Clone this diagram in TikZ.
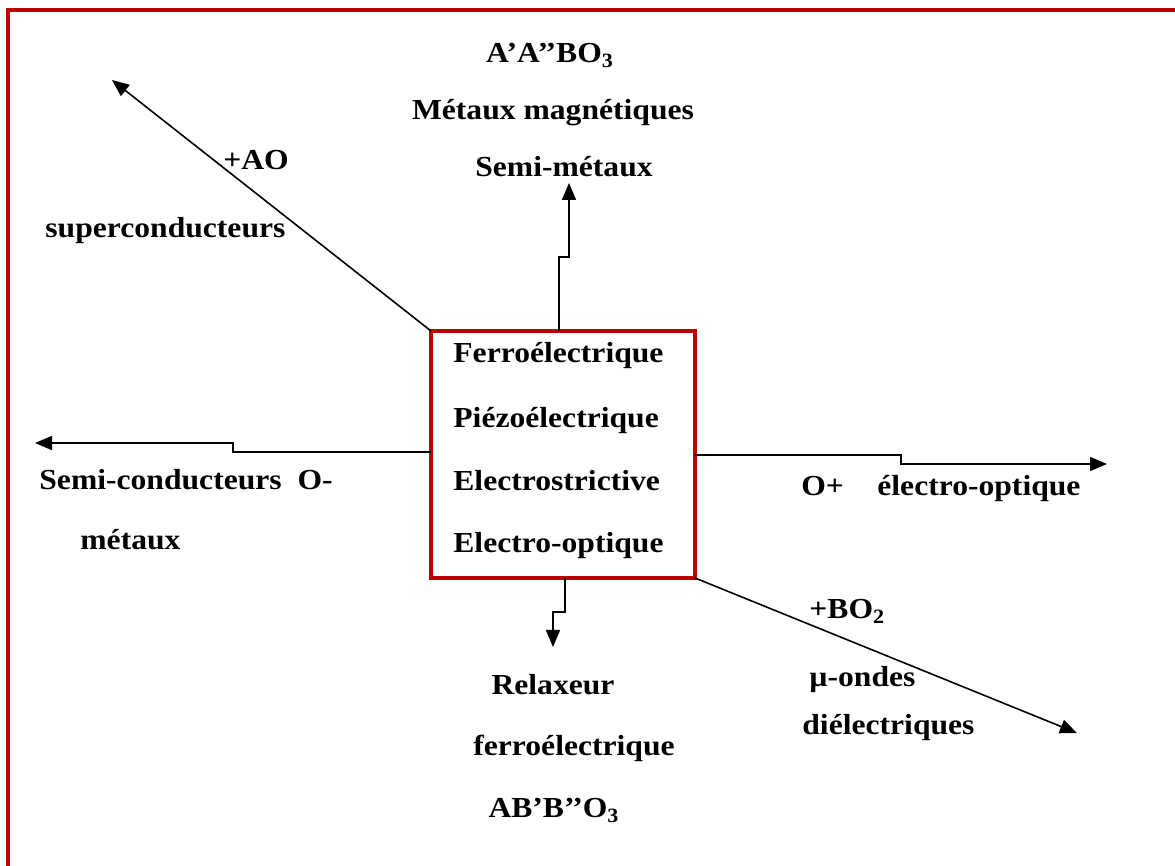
\documentclass[tikz,border=0pt]{standalone}
\usepackage{fontspec}
\setmainfont{Liberation Serif}[FakeStretch=1.09]
\usepackage{tkz-euclide}
\usetikzlibrary{arrows.meta}
\definecolor{framered}{HTML}{C00000}
\tikzset{
  link/.style={line width=0.8pt,-{Triangle[length=8.5pt,width=7pt]}},
  lbl/.style={font=\fontsize{14.5}{17}\selectfont\bfseries,inner sep=0pt},
}
\begin{document}
\begin{tikzpicture}[x=0.5pt,y=-0.5pt]
                \useasboundingbox (0,0) rectangle (1175,866);
                \draw[framered,line width=2pt] (8,866) -- (8,10) -- (1175,10);
                \node[draw=framered,line width=1.6pt,minimum width=132pt,minimum height=123.5pt,
                      inner sep=0pt,outer sep=0pt] (core) at (563,454.5) {};
                \tkzDefPoints{559/257/Ub,569/257/Uc,569/183/Ut,
                              233/452/Lb,233/443/Lc,35/443/Lt,
                              901/455/Rb,901/464/Rc,1107/464/Rt,
                              565/612/Db,553/612/Dc,553/647/Dt,
                              112/80/NWt,1077/733/SEt}
                \draw[link] (core.north -| Ub) -- (Ub) -- (Uc) -- (Ut);
                \draw[link] (core.west |- Lb) -- (Lb) -- (Lc) -- (Lt);
                \draw[link] (core.east |- Rb) -- (Rb) -- (Rc) -- (Rt);
                \draw[link] (core.south -| Db) -- (Db) -- (Dc) -- (Dt);
                \draw[link] (core.north west) -- (NWt);
                \draw[link] (core.south east) -- (SEt);
                \node[lbl,anchor=base west] (ferro) at (453,363) {Ferroélectrique};
                \node[lbl,anchor=base west] (piezo) at (453,428) {Piézoélectrique};
                \node[lbl,anchor=base west] (stric) at (453,491) {Electrostrictive};
                \node[lbl,anchor=base west] (eopt) at (453,553) {Electro-optique};
                \node[lbl,anchor=base] (aabo) at (550,63) {A’A’’BO\textsubscript{3}};
                \node[lbl,anchor=base] (magn) at (553,120) {Métaux magnétiques};
                \node[lbl,anchor=base] (semet) at (564,177) {Semi-métaux};
                \node[lbl,anchor=base west] (ao) at (223,170) {+AO};
                \node[lbl,anchor=base west] (supra) at (45,238) {superconducteurs};
                \node[lbl,anchor=base west] (semic) at (39,490) {Semi-conducteurs\ \ O-};
                \node[lbl,anchor=base west] (metx) at (80,550) {métaux};
                \node[lbl,anchor=base west] (oplus) at (801,496) {O+};
                \node[lbl,anchor=base west] (elop) at (877,496) {électro-optique};
                \node[lbl,anchor=base west] (bo) at (809,619) {+BO\textsubscript{2}};
                \node[lbl,anchor=base west] (mu) at (809,687) {µ-ondes};
                \node[lbl,anchor=base west] (diel) at (802,735) {diélectriques};
                \node[lbl,anchor=base] (relax) at (553,695) {Relaxeur};
                \node[lbl,anchor=base] (fer2) at (574,755) {ferroélectrique};
                \node[lbl,anchor=base] (abbo) at (554,818) {AB’B’’O\textsubscript{3}};
            \end{tikzpicture}
\end{document}
